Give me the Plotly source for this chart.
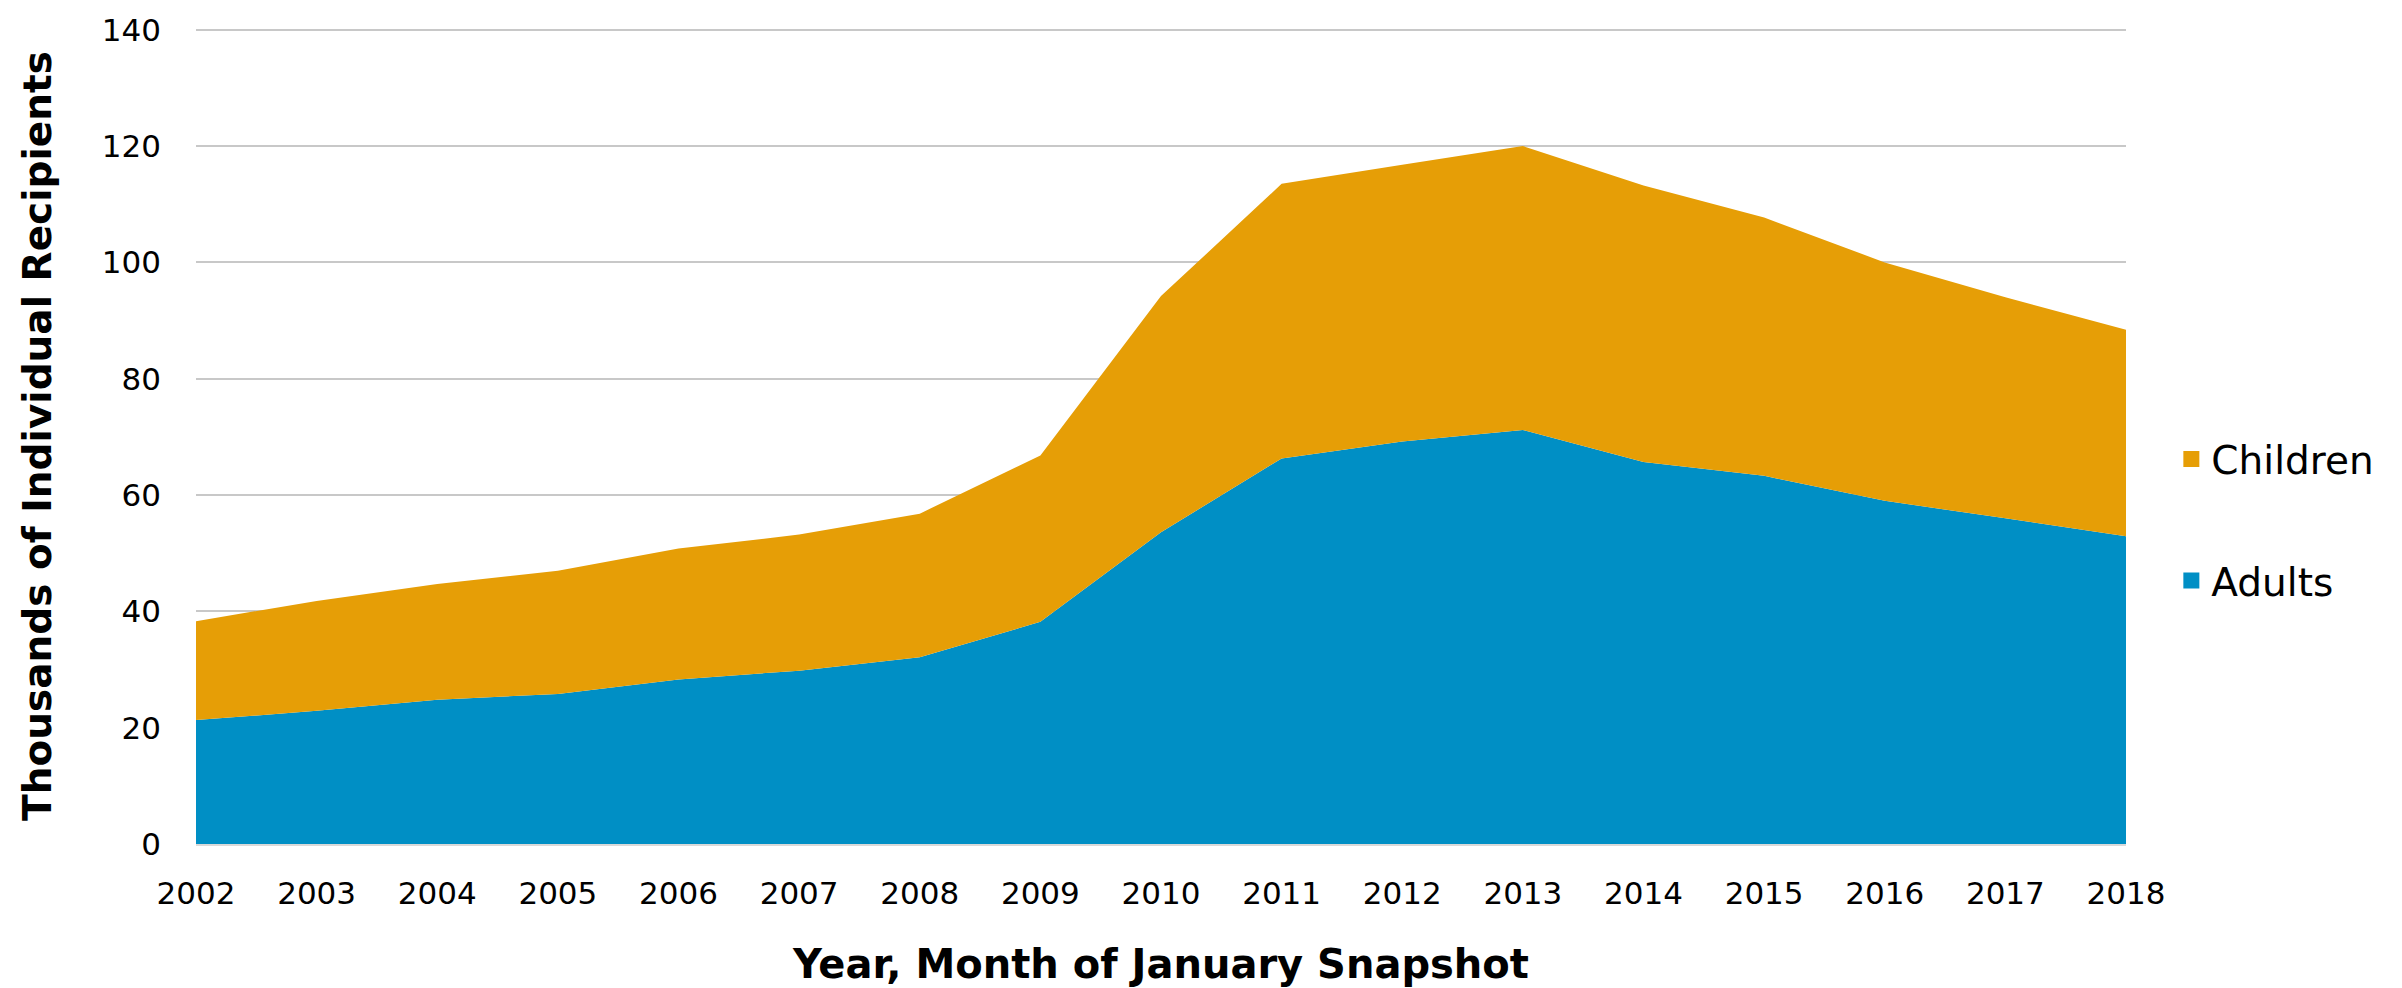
import plotly.graph_objects as go

years = list(range(2002, 2019))
adults = [21.3, 22.9, 24.8, 25.8, 28.3, 29.8, 32.1, 38.2, 53.6, 66.3, 69.2, 71.2, 65.7, 63.3, 59.0, 56.0, 52.9]
children = [17.0, 18.9, 19.9, 21.2, 22.5, 23.4, 24.7, 28.6, 40.6, 47.2, 47.6, 48.8, 47.5, 44.4, 41.0, 38.0, 35.5]
y_ticks = [0, 20, 40, 60, 80, 100, 120, 140]

BLUE = "#008FC5"
ORANGE = "#E69E06"
FONT = "DejaVu Sans"

fig = go.Figure()
fig.add_trace(go.Scatter(x=years, y=adults, name="Adults", stackgroup="one", mode="none",
                         fillcolor=BLUE, showlegend=False))
fig.add_trace(go.Scatter(x=years, y=children, name="Children", stackgroup="one", mode="none",
                         fillcolor=ORANGE, showlegend=False))
# legend entries (square swatches)
fig.add_trace(go.Scatter(x=[None], y=[None], name="Children", mode="markers",
                         marker=dict(symbol="square", size=16, color=ORANGE), legendgroup="c"))
fig.add_trace(go.Scatter(x=[None], y=[None], name="Adults", mode="markers",
                         marker=dict(symbol="square", size=16, color=BLUE), legendgroup="a"))

fig.update_layout(
    width=2402, height=988,
    margin=dict(l=188, r=284, t=20, b=152),
    paper_bgcolor="white", plot_bgcolor="white",
    font=dict(family=FONT, size=31, color="black"),
    showlegend=True,
    legend=dict(x=1.0235, y=0.397, xanchor="left", yanchor="middle",
                traceorder="grouped", tracegroupgap=68,
                font=dict(family=FONT, size=39, color="black")),
    xaxis=dict(range=[2002, 2018], tickvals=years, ticktext=[str(y) for y in years],
               showgrid=False, showline=True, linecolor="#D9D9D9", linewidth=2,
               ticks="", ticklabelstandoff=21, automargin=False,
               title=dict(text="<b>Year, Month of January Snapshot</b>", font=dict(size=40), standoff=40)),
    yaxis=dict(range=[0, 140.3], tickvals=y_ticks, showgrid=True, gridcolor="#C8C8C8", gridwidth=2,
               zeroline=False, showline=False, ticks="", ticklabelstandoff=34, automargin=False,
               title=dict(text="<b>Thousands of Individual Recipients</b>", font=dict(size=39), standoff=38)),
)
fig.write_html("out.html")
